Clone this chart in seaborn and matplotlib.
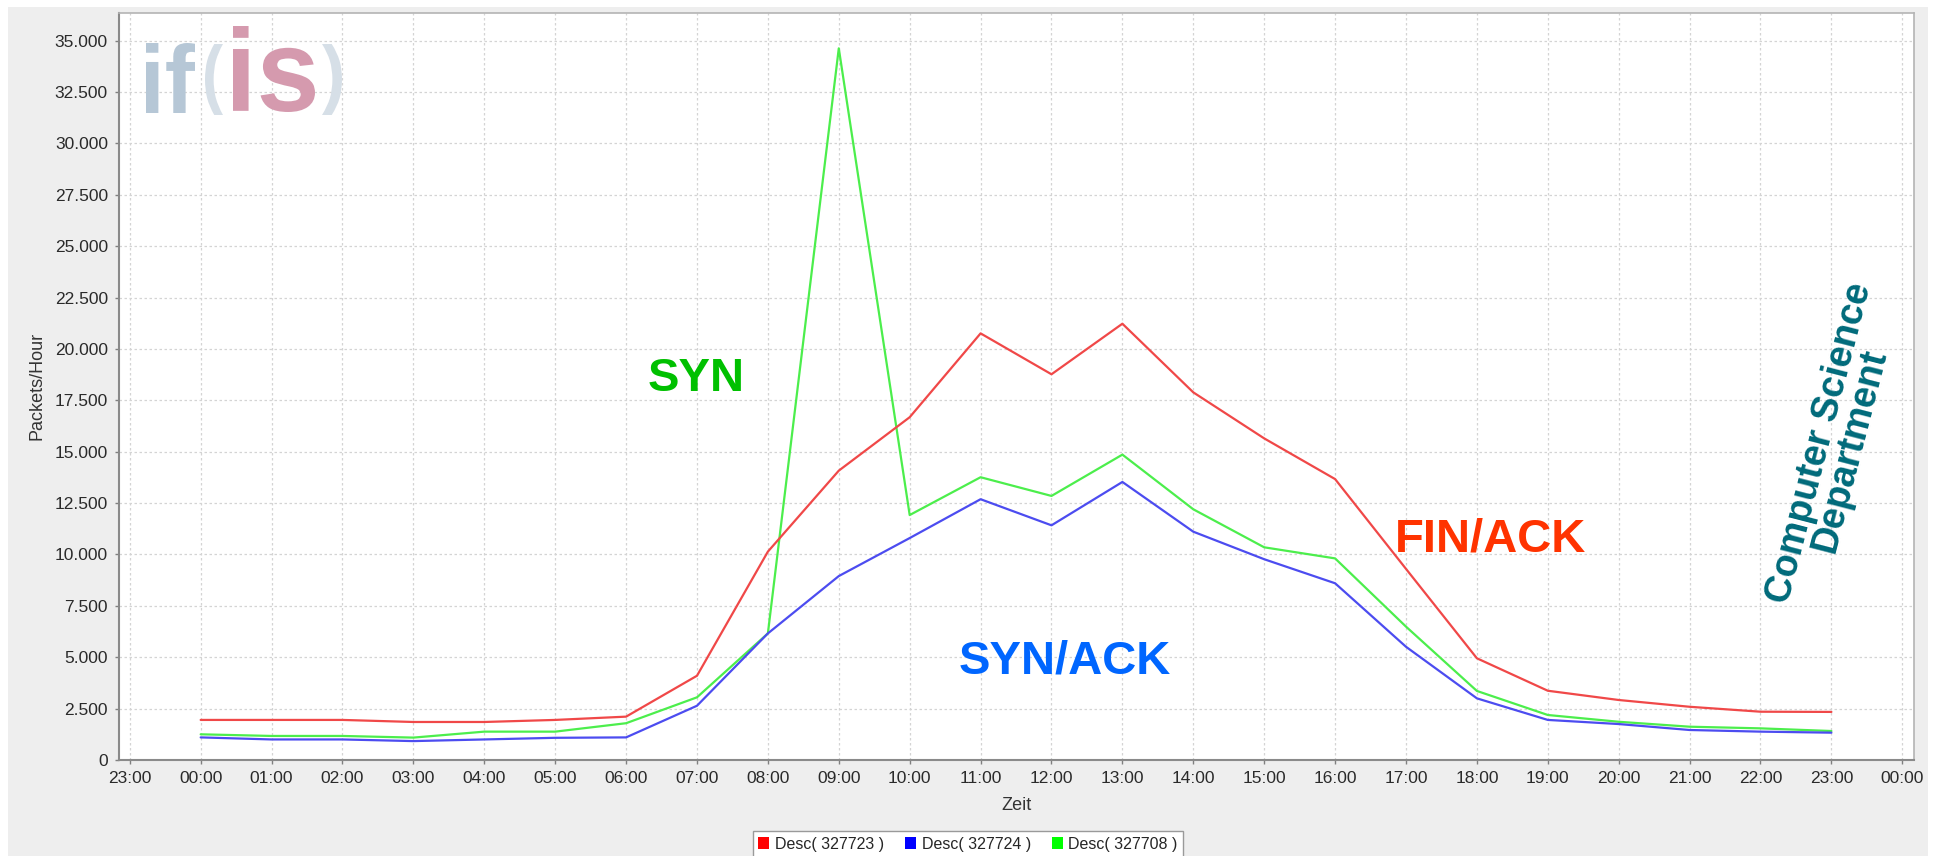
import numpy as np
import pandas as pd
import matplotlib
matplotlib.use("Agg")
import matplotlib.pyplot as plt
import seaborn as sns
from matplotlib.patches import Rectangle, Patch, PathPatch
from matplotlib.textpath import TextPath
from matplotlib.font_manager import FontProperties
from matplotlib.transforms import Affine2D
from matplotlib.ticker import FuncFormatter

# ---- data: packets per hour over one day ----
hour_labels = ["00:00", "01:00", "02:00", "03:00", "04:00", "05:00", "06:00", "07:00",
               "08:00", "09:00", "10:00", "11:00", "12:00", "13:00", "14:00", "15:00",
               "16:00", "17:00", "18:00", "19:00", "20:00", "21:00", "22:00", "23:00"]
axis_tick_labels = ["23:00"] + hour_labels + ["00:00"]

series_names = ["Desc( 327723 )", "Desc( 327724 )", "Desc( 327708 )"]

fin_ack = [1950, 1950, 1950, 1850, 1850, 1950, 2110, 4100, 10140, 14080, 16680, 20760,
           18770, 21230, 17890, 15650, 13670, 9300, 4950, 3370, 2920, 2590, 2350, 2340]
syn_ack = [1100, 1000, 1000, 920, 1000, 1080, 1100, 2640, 6160, 8950, 10800, 12690,
           11420, 13530, 11110, 9770, 8600, 5510, 3000, 1950, 1750, 1460, 1380, 1330]
syn = [1250, 1170, 1170, 1090, 1380, 1380, 1790, 3050, 6160, 34630, 11920, 13760,
       12850, 14860, 12200, 10350, 9810, 6490, 3360, 2190, 1860, 1620, 1540, 1410]

y_ticks = [0, 2500, 5000, 7500, 10000, 12500, 15000, 17500, 20000, 22500, 25000,
           27500, 30000, 32500, 35000]

line_colors = {series_names[0]: "#F04848", series_names[1]: "#4C4CF0", series_names[2]: "#4CEE4C"}
legend_colors = ["#FF0000", "#0000FF", "#00FF00"]

positions = np.arange(len(hour_labels))
df = pd.concat([
    pd.DataFrame({"pos": positions, "value": vals, "series": name})
    for name, vals in zip(series_names, [fin_ack, syn_ack, syn])
], ignore_index=True)

# ---- styling ----
sns.set_theme(style="white")
plt.rcParams["font.family"] = ["Liberation Sans", "DejaVu Sans"]

W, H = 1937, 856
fig = plt.figure(figsize=(W / 100, H / 100), dpi=100, facecolor="white")


def fx(x):
    return x / W


def fy(y):
    return 1 - y / H


# grey chart panel
fig.add_artist(Rectangle((fx(8), 0), fx(1928) - fx(8), fy(7), transform=fig.transFigure,
                         facecolor="#EEEEEE", edgecolor="none", zorder=-10))

ax = fig.add_axes([fx(119), fy(760), fx(1914) - fx(119), fy(13) - fy(760)])
ax.set_facecolor("white")

# draw last series first so the first one sits on top
sns.lineplot(data=df, x="pos", y="value", hue="series",
             hue_order=[series_names[2], series_names[1], series_names[0]],
             palette=line_colors, legend=False, ax=ax, linewidth=1.6)

ax.set_xlim(-1.152, 24.165)
ax.set_ylim(0, 36350)
tick_pos = np.arange(-1, len(hour_labels) + 1)
ax.set_xticks(tick_pos)
ax.set_xticklabels(axis_tick_labels)
ax.set_yticks(y_ticks)
ax.yaxis.set_major_formatter(FuncFormatter(lambda v, _: f"{int(v):,}".replace(",", ".")))
ax.set_xlabel("")
ax.set_ylabel("")

ax.grid(True, color="#D4D4D4", linestyle=(0, (2, 2)), linewidth=0.9)
ax.set_axisbelow(True)
ax.tick_params(axis="both", which="major", direction="out", length=3, width=1,
               color="#808080", labelsize=12.5, labelcolor="#2A2A2A", pad=5)
ax.tick_params(axis="x", bottom=True)
ax.tick_params(axis="y", left=True)

for side in ["left", "bottom"]:
    ax.spines[side].set_color("#8A8A8A")
    ax.spines[side].set_linewidth(1.5)
for side in ["top", "right"]:
    ax.spines[side].set_color("#B4B4B4")
    ax.spines[side].set_linewidth(1.2)

# axis titles
fig.text(fx(37), fy(386), "Packets/Hour", rotation=90, ha="center", va="center",
         fontsize=13, color="#333333")
fig.text(fx(1016), fy(805), "Zeit", ha="center", va="center", fontsize=13, color="#333333")

# legend
handles = [Patch(facecolor=c, edgecolor="none") for c in legend_colors]
fig.legend(handles, series_names, loc="upper center", bbox_to_anchor=(fx(968), fy(831)),
           ncol=3, fontsize=11.5, frameon=True, fancybox=False, edgecolor="#9A9A9A",
           facecolor="white", framealpha=1, handlelength=0.7, handleheight=0.7,
           handletextpad=0.35, columnspacing=1.3, borderpad=0.35, borderaxespad=0)

# flag annotations
fig.text(fx(648), fy(391), "SYN", ha="left", va="baseline", fontsize=34,
         fontweight="bold", color="#00C000")
fig.text(fx(959), fy(674), "SYN/ACK", ha="left", va="baseline", fontsize=34,
         fontweight="bold", color="#0066FF")
fig.text(fx(1395), fy(552), "FIN/ACK", ha="left", va="baseline", fontsize=34,
         fontweight="bold", color="#FF3300")
fig.text(fx(1835), fy(447), "Computer Science\nDepartment", rotation=75.5,
         rotation_mode="anchor", ha="center", va="center", multialignment="center",
         fontsize=27, fontweight="bold", color="#006A7A", linespacing=0.85)

# if(is) logo, glyph outlines fitted into pixel boxes
logo_font = FontProperties(family="Liberation Sans", weight="bold")


def logo_piece(s, left, top, right, bottom, color):
    tp = TextPath((0, 0), s, size=100, prop=logo_font)
    bb = tp.get_extents()
    sx = (right - left) / bb.width
    sy = (bottom - top) / bb.height
    tr = Affine2D().translate(-bb.x0, -bb.y0).scale(sx, sy).translate(left, H - bottom)
    fig.add_artist(PathPatch(tp, transform=tr, facecolor=color, edgecolor="none", zorder=5))


logo_piece("if", 146, 43, 195, 113, "#B6C7D6")
logo_piece("(", 205, 44, 223, 115, "#D6DFE7")
logo_piece("is", 233, 26, 315, 112, "#D59AAE")
logo_piece(")", 322, 44, 342, 115, "#D6DFE7")

fig.savefig("out.png", dpi=100, facecolor=fig.get_facecolor())
